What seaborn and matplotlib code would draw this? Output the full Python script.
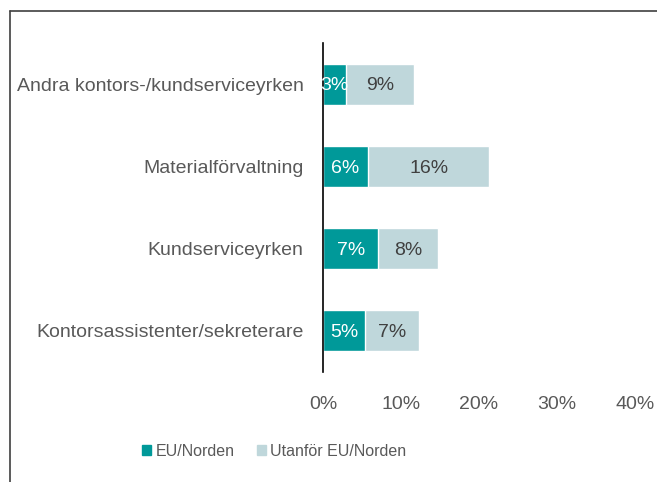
import matplotlib
matplotlib.use("Agg")
import matplotlib.pyplot as plt
from matplotlib.patches import Patch
from matplotlib.lines import Line2D
import seaborn as sns
import pandas as pd

# --- Data ---
categories = ["Andra kontors-/kundserviceyrken", "Materialförvaltning",
              "Kundserviceyrken", "Kontorsassistenter/sekreterare"]
eu_norden = [2.9, 5.8, 7.1, 5.4]
utanfor = [8.8, 15.5, 7.6, 6.9]
xticks = [0, 10, 20, 30, 40]

TEAL = "#009999"
LIGHT = "#BFD7DB"
GRAY = "#595959"
FS = 14
LEG_FS = 11.5

sns.set_style("white")
plt.rcParams["font.family"] = ["Liberation Sans", "DejaVu Sans"]

df = pd.DataFrame({"cat": categories, "eu": eu_norden, "ut": utanfor})
df["total"] = df["eu"] + df["ut"]

fig = plt.figure(figsize=(6.57, 4.82), dpi=100)
ax = fig.add_axes([323 / 657, 1 - 372 / 482, (635 - 323) / 657, (372 - 43) / 482])

sns.barplot(data=df, x="total", y="cat", color=LIGHT, width=0.5, ax=ax, saturation=1)
sns.barplot(data=df, x="eu", y="cat", color=TEAL, width=0.5, ax=ax, saturation=1)

# value labels in the middle of each segment
for i, row in df.iterrows():
    ax.text(row["eu"] / 2, i + 0.02, f"{round(row['eu'])}%", ha="center", va="center",
            color="white", fontsize=FS)
    ax.text(row["eu"] + row["ut"] / 2, i + 0.02, f"{round(row['ut'])}%", ha="center",
            va="center", color="#404040", fontsize=FS)

ax.set_xlim(0, 40)
ax.set_ylim(3.5, -0.5)
ax.set_xticks(xticks)
ax.set_xticklabels([f"{t}%" for t in xticks])
ax.set_xlabel("")
ax.set_ylabel("")
ax.tick_params(axis="x", length=0, pad=17, labelsize=FS, labelcolor=GRAY)
ax.tick_params(axis="y", length=0, pad=14, labelsize=FS, labelcolor=GRAY)
for s in ["top", "right", "bottom"]:
    ax.spines[s].set_visible(False)
ax.spines["left"].set_color("black")
ax.spines["left"].set_linewidth(1.2)

handles = [Patch(color=TEAL, label="EU/Norden"),
           Patch(color=LIGHT, label="Utanför EU/Norden")]
leg = fig.legend(handles=handles, loc="center", bbox_to_anchor=(274 / 657, 1 - 451 / 482),
                 ncol=2, frameon=False, fontsize=LEG_FS, handlelength=0.6, handleheight=0.6,
                 handletextpad=0.25, columnspacing=1.4)
for t in leg.get_texts():
    t.set_color(GRAY)

# outer frame (left and top edges)
fig.add_artist(Line2D([9.5 / 657, 9.5 / 657], [0, 1 - 11 / 482], color="#404040", lw=1.2))
fig.add_artist(Line2D([9.5 / 657, 1], [1 - 11 / 482, 1 - 11 / 482], color="#404040", lw=1.2))

fig.savefig("out.png", dpi=100)
